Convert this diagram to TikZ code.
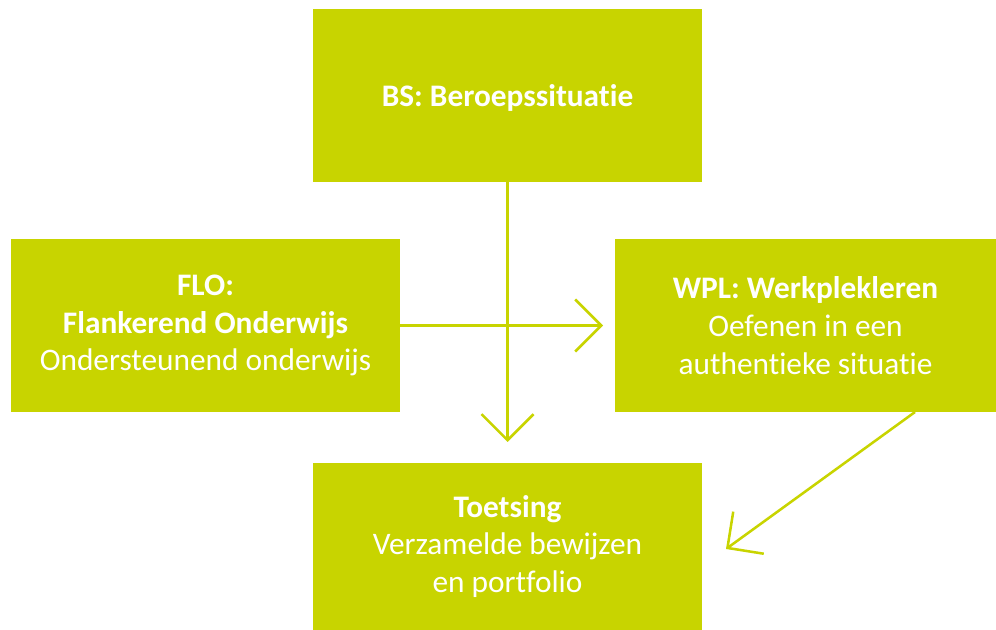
\documentclass[tikz,border=0pt]{standalone}
\usepackage{fontspec}
\setmainfont{Carlito}[Ligatures=NoCommon]
\usetikzlibrary{arrows.meta}
\definecolor{limegreen}{RGB}{200,212,0}

\begin{document}
\begin{tikzpicture} [x=0.75pt,y=-0.75pt,
  box/.style={fill=limegreen, text=white, align=center, inner sep=0pt,
    minimum width=291.75pt, minimum height=129.75pt,
    font=\fontsize{23.5}{28.3}\selectfont},
  flow/.style={draw=limegreen, line width=1.9pt,
    -{Straight Barb[length=19.5pt,width=39pt,line width=1.9pt]}}]
\useasboundingbox (0,0) rectangle (996,630);
\coordinate (BSc) at (507.5,95.5);
\coordinate (FLOc) at (205.5,325.5);
\coordinate (WPLc) at (805.5,325.5);
\coordinate (TOc) at (507.5,546.5);

\node [box, text depth=0pt] (bs) at (BSc) {\textbf{BS: Beroepssituatie}};
\node [box] (flo) at (FLOc) {\textbf{FLO:}\\ \textbf{Flankerend Onderwijs}\\ Ondersteunend onderwijs};
\node [box, minimum width=285.75pt] (wpl) at (WPLc) {\textbf{WPL: Werkplekleren}\\ Oefenen in een\\ authentieke situatie};
\node [box, minimum height=125.25pt] (toets) at (TOc) {\textbf{Toetsing}\\ Verzamelde bewijzen\\ en portfolio};

\coordinate (downend) at (507.5,442);
\coordinate (rightend) at (603,325.5);
\coordinate (diagstart) at (915,412);
\coordinate (diagend) at (726,549);

\draw [flow] (bs.south) -- (downend);
\draw [flow] (flo.east) -- (rightend);
\draw [flow] (diagstart) -- (diagend);
\end{tikzpicture}
\end{document}
